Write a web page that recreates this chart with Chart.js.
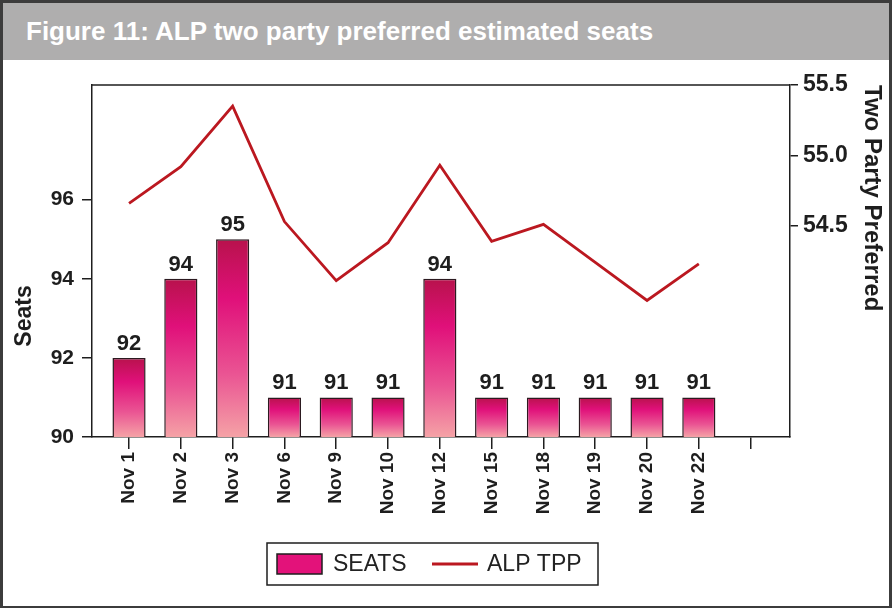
<!DOCTYPE html>
<html>
<head>
<meta charset="utf-8">
<script src="https://cdn.jsdelivr.net/npm/chart.js@4/dist/chart.umd.min.js"></script>
<style>
  html, body { margin: 0; padding: 0; background: #fff; }
  #frame { position: relative; width: 892px; height: 608px; box-sizing: border-box;
           border: 3px solid #3c3c3c; border-bottom-width: 2px; background: #fff; overflow: hidden; }
  #title { position: absolute; left: 0; top: 0; width: 886px; height: 57px; background: #afaeae;
           color: #fff; font: bold 26px "Liberation Sans", Arial, sans-serif; line-height: 57px;
           padding-left: 23px; box-sizing: border-box; white-space: nowrap; }
  #chart { position: absolute; left: 0; top: 57px; }
</style>
</head>
<body>
<div id="frame">
  <div id="title">Figure 11: ALP two party preferred estimated seats</div>
  <canvas id="chart" width="886" height="548"></canvas>
</div>
<script>
// ---- data ----
const categories = ["Nov 1", "Nov 2", "Nov 3", "Nov 6", "Nov 9", "Nov 10", "Nov 12", "Nov 15", "Nov 18", "Nov 19", "Nov 20", "Nov 22"];
const seats = [92, 94, 95, 91, 91, 91, 94, 91, 91, 91, 91, 91];
const alpTpp = [54.66, 54.92, 55.35, 54.53, 54.11, 54.38, 54.93, 54.39, 54.51, 54.24, 53.97, 54.23];
const seatTicks = [90, 92, 94, 96];
const tppTicks = [54.5, 55.0, 55.5];
const seriesNames = ["SEATS", "ALP TPP"];
const axisTitles = { left: "Seats", right: "Two Party Preferred" };

const FONT = '"Liberation Sans", Arial, sans-serif';
const INK = '#1e1e1e';

function barGradient(ctx) {
  const chart = ctx.chart;
  const ys = chart.scales.y;
  if (!chart.chartArea || !ys || ctx.dataIndex === undefined) return '#e3127a';
  const v = ctx.raw && ctx.raw.y !== undefined ? ctx.raw.y : seats[ctx.dataIndex];
  const top = ys.getPixelForValue(v);
  const base = ys.getPixelForValue(ys.min);
  const g = chart.ctx.createLinearGradient(0, top, 0, base);
  g.addColorStop(0, '#b8124c');
  g.addColorStop(0.3, '#e0107a');
  g.addColorStop(0.68, '#ea5493');
  g.addColorStop(1, '#f5a2a6');
  return g;
}

const framePlugin = {
  id: 'framePlugin',
  afterDatasetsDraw(chart) {
    const { ctx, chartArea: a } = chart;
    ctx.save();
    ctx.strokeStyle = INK;
    ctx.lineWidth = 1.5;
    ctx.beginPath();
    ctx.moveTo(a.left, a.top);
    ctx.lineTo(a.right, a.top);
    ctx.stroke();
    ctx.restore();
  },
  afterDraw(chart) {
    const { ctx } = chart;
    // bar value labels
    const meta = chart.getDatasetMeta(0);
    ctx.save();
    ctx.fillStyle = INK;
    ctx.font = 'bold 22px ' + FONT;
    ctx.textAlign = 'center';
    ctx.textBaseline = 'alphabetic';
    meta.data.forEach((el, i) => {
      ctx.fillText(String(seats[i]), el.x, el.y - 8);
    });
    ctx.restore();

    // left axis title
    ctx.save();
    ctx.fillStyle = INK;
    ctx.font = 'bold 23px ' + FONT;
    ctx.translate(22, 256);
    ctx.rotate(-Math.PI / 2);
    ctx.textAlign = 'center';
    ctx.textBaseline = 'middle';
    ctx.fillText(axisTitles.left, 0, 0);
    ctx.restore();

    // legend
    const lx = 264, ly = 483, lw = 331, lh = 42;
    ctx.save();
    ctx.strokeStyle = INK;
    ctx.lineWidth = 1.5;
    ctx.strokeRect(lx, ly, lw, lh);
    const cy = ly + lh / 2;
    ctx.fillStyle = '#e3127a';
    ctx.fillRect(274, cy - 10, 45, 20);
    ctx.strokeRect(274, cy - 10, 45, 20);
    ctx.fillStyle = '#222';
    ctx.font = '23px ' + FONT;
    ctx.textBaseline = 'middle';
    ctx.textAlign = 'left';
    ctx.fillText(chart.data.datasets[0].label, 330, cy + 1);
    ctx.strokeStyle = '#bb1820';
    ctx.lineWidth = 3;
    ctx.beginPath();
    ctx.moveTo(429, cy);
    ctx.lineTo(475, cy);
    ctx.stroke();
    ctx.fillText(chart.data.datasets[1].label, 484, cy + 1);
    ctx.restore();
  }
};

const gridOpts = (len) => ({ drawOnChartArea: false, drawTicks: true, tickLength: len, color: INK, lineWidth: 1.5, offset: false });
const borderOpts = { display: true, color: INK, width: 1.5 };

new Chart(document.getElementById('chart'), {
  type: 'bar',
  data: {
    datasets: [
      {
        type: 'bar',
        label: seriesNames[0],
        data: seats.map((v, i) => ({ x: i, y: v })),
        backgroundColor: barGradient,
        borderColor: '#2c1a20',
        borderWidth: 1.5,
        categoryPercentage: 1,
        barPercentage: 0.64,
        yAxisID: 'y',
        order: 2
      },
      {
        type: 'line',
        label: seriesNames[1],
        data: alpTpp.map((v, i) => ({ x: i, y: v })),
        borderColor: '#bb1820',
        borderWidth: 2.8,
        pointRadius: 0,
        tension: 0,
        yAxisID: 'y1',
        order: 1
      }
    ]
  },
  options: {
    responsive: false,
    animation: false,
    devicePixelRatio: 1,
    layout: { padding: { top: 25, left: 0, right: 0, bottom: 0 } },
    plugins: { legend: { display: false }, tooltip: { enabled: false } },
    scales: {
      x: {
        type: 'linear',
        offset: false,
        min: -0.715,
        max: 12.76,
        grid: gridOpts(12),
        border: borderOpts,
        afterBuildTicks: (s) => { s.ticks = categories.map((c, i) => ({ value: i })).concat([{ value: categories.length }]); },
        afterFit: (s) => { s.height = 548 - 377; },
        ticks: {
          autoSkip: false,
          minRotation: 90,
          maxRotation: 90,
          padding: 3,
          color: INK,
          font: { family: FONT, size: 19, weight: 'bold' },
          callback: (v) => categories[v] !== undefined ? categories[v] : ''
        }
      },
      y: {
        type: 'linear',
        position: 'left',
        min: 90,
        max: 98.9,
        grid: gridOpts(10),
        border: borderOpts,
        afterBuildTicks: (s) => { s.ticks = seatTicks.map(v => ({ value: v })); },
        afterFit: (s) => { s.width = 89; },
        ticks: {
          padding: 8,
          color: INK,
          font: { family: FONT, size: 21, weight: 'bold' }
        }
      },
      y1: {
        type: 'linear',
        position: 'right',
        min: 53.0,
        max: 55.5,
        grid: gridOpts(8),
        border: borderOpts,
        afterBuildTicks: (s) => { s.ticks = tppTicks.map(v => ({ value: v })); },
        afterFit: (s) => { s.width = 886 - 787; },
        title: {
          display: true,
          text: axisTitles.right,
          align: 'end',
          color: INK,
          font: { family: FONT, size: 24, weight: 'bold' },
          padding: { top: 3, bottom: 0 }
        },
        ticks: {
          padding: 5,
          color: INK,
          font: { family: FONT, size: 23, weight: 'bold' },
          callback: (v) => Number(v).toFixed(1)
        }
      }
    }
  },
  plugins: [framePlugin]
});
</script>
</body>
</html>
